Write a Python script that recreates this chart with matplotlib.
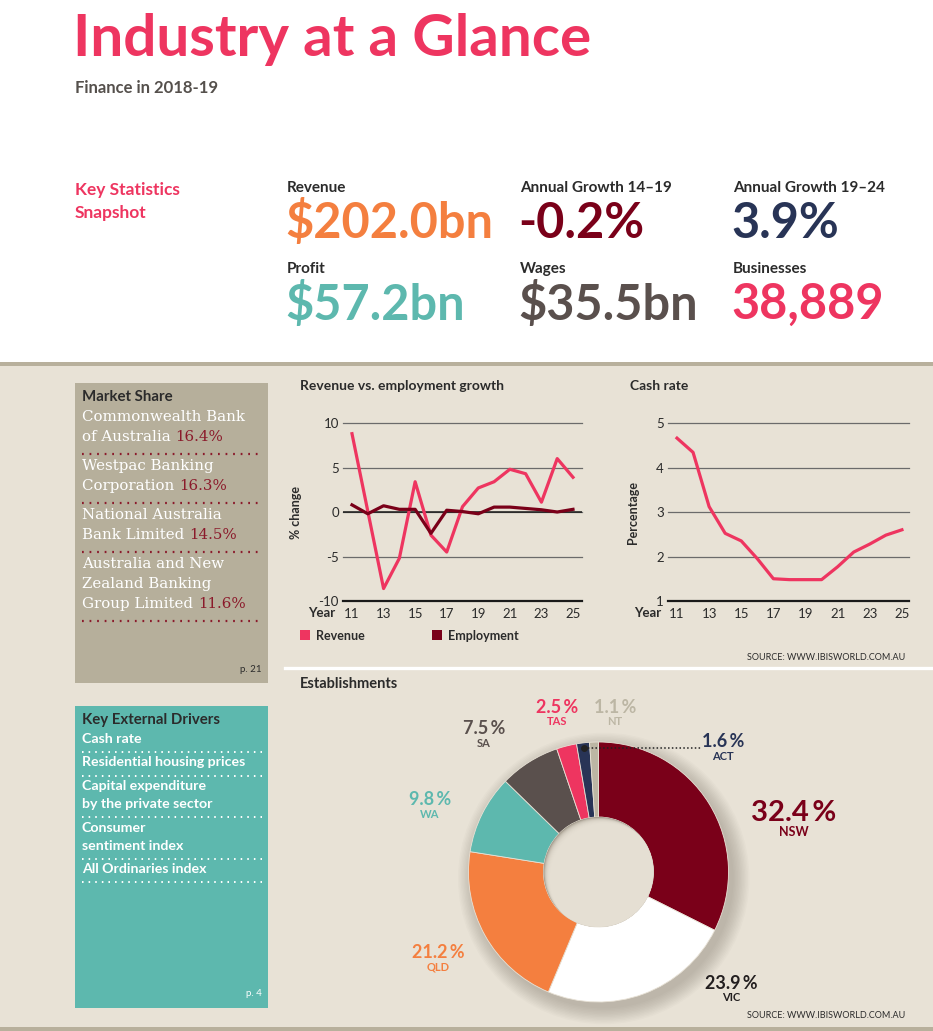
import matplotlib
matplotlib.use('Agg')
import numpy as np
import matplotlib.pyplot as plt
from matplotlib.patches import Rectangle, Circle

plt.rcParams['font.family'] = ['Lato', 'DejaVu Sans']
plt.rcParams['axes.unicode_minus'] = False

W, H = 933, 1031

# ---- data ----
years = list(range(11, 26))
year_ticks = [11, 13, 15, 17, 19, 21, 23, 25]
revenue_growth = [8.8, 0.1, -8.6, -5.2, 3.4, -2.6, -4.5, 0.6, 2.7, 3.4, 4.8, 4.3, 1.1, 6.0, 3.9]
employment_growth = [0.8, -0.2, 0.7, 0.3, 0.3, -2.4, 0.2, 0.05, -0.2, 0.55, 0.55, 0.4, 0.25, 0.0, 0.3]
cash_rate = [4.66, 4.34, 3.12, 2.52, 2.35, 1.95, 1.5, 1.48, 1.48, 1.48, 1.77, 2.1, 2.28, 2.48, 2.6]

states = ['NSW', 'VIC', 'QLD', 'WA', 'SA', 'TAS', 'ACT', 'NT']
state_share = [32.4, 23.9, 21.2, 9.8, 7.5, 2.5, 1.6, 1.1]

stat_labels = ['Revenue', 'Annual Growth 14\u201319', 'Annual Growth 19\u201324',
               'Profit', 'Wages', 'Businesses']
stat_values = ['$202.0bn', '-0.2%', '3.9%', '$57.2bn', '$35.5bn', '38,889']

company_lines = [['Commonwealth Bank', 'of Australia'],
                 ['Westpac Banking', 'Corporation'],
                 ['National Australia', 'Bank Limited'],
                 ['Australia and New', 'Zealand Banking', 'Group Limited']]
company_share = [16.4, 16.3, 14.5, 11.6]

drivers = [['Cash rate'], ['Residential housing prices'],
           ['Capital expenditure', 'by the private sector'],
           ['Consumer', 'sentiment index'], ['All Ordinaries index']]

# ---- colours ----
PINK = '#EE3560'
MAROON = '#7A0019'
ORANGE = '#F47F3F'
TEAL = '#5DB8AE'
NAVY = '#283456'
BROWN = '#5A504D'
BEIGE = '#E8E2D6'
TAN = '#B8B09C'
DARK = '#2B2B2B'
state_colors = [MAROON, '#FFFFFF', ORANGE, TEAL, BROWN, PINK, NAVY, '#BCB6A4']
stat_colors = [ORANGE, MAROON, NAVY, TEAL, BROWN, PINK]

fig = plt.figure(figsize=(W / 100, H / 100), dpi=100)
fig.patch.set_facecolor('white')

# background canvas in pixel coordinates
bg = fig.add_axes([0, 0, 1, 1], zorder=-1)
bg.set_xlim(0, W)
bg.set_ylim(H, 0)
bg.axis('off')

bg.add_patch(Rectangle((0, 362), W, 4, color=TAN, lw=0))
bg.add_patch(Rectangle((0, 366), W, 661, color=BEIGE, lw=0))
bg.add_patch(Rectangle((0, 1027), W, 4, color=TAN, lw=0))
bg.plot([285, W], [668, 668], color='white', lw=2.4)

# ---- header ----
bg.text(73, 40, 'Industry at a Glance', color=PINK, fontsize=42, fontweight='bold', va='center')
bg.text(75, 88, 'Finance in 2018-19', color='#55504C', fontsize=12, fontweight='bold', va='center')
bg.text(75, 190, 'Key Statistics', color=PINK, fontsize=12.5, fontweight='bold', va='center')
bg.text(75, 213, 'Snapshot', color=PINK, fontsize=12.5, fontweight='bold', va='center')

stat_x = [287, 520, 733]
for i, (lab, val, col) in enumerate(zip(stat_labels, stat_values, stat_colors)):
    x = stat_x[i % 3]
    y0 = 188 if i < 3 else 269
    bg.text(x, y0, lab, color=DARK, fontsize=11, fontweight='bold', va='center')
    bg.text(x - 2, y0 + 35, val, color=col, fontsize=35, fontweight='bold', va='center')

# ---- market share box ----
bg.add_patch(Rectangle((75, 383), 193, 300, color='#B6AF9B', lw=0))
bg.text(82, 397, 'Market Share', color=DARK, fontsize=10.8, fontweight='bold', va='center')
y = 417
for lines, share in zip(company_lines, company_share):
    for j, line in enumerate(lines):
        if j == len(lines) - 1:
            t = bg.text(82, y, line + ' ', color='white', fontsize=10.8, family='DejaVu Serif', va='center')
            bg.annotate(f'{share}%', xycoords=t, xy=(1, 0.5), va='center', ha='left',
                        color='#8B1A2B', fontsize=10.8, family='DejaVu Serif')
        else:
            bg.text(82, y, line, color='white', fontsize=10.8, family='DejaVu Serif', va='center')
        y += 20
    bg.plot([82, 262], [y - 3, y - 3], color='#8B1A2B', lw=1.6, ls=(0, (0.8, 2.6)))
    y += 9
bg.text(262, 670, 'p. 21', color=DARK, fontsize=7, ha='right', va='center')

# ---- key external drivers box ----
bg.add_patch(Rectangle((75, 706), 193, 302, color=TEAL, lw=0))
bg.text(82, 720, 'Key External Drivers', color=DARK, fontsize=10.8, fontweight='bold', va='center')
y = 739
for lines in drivers:
    for line in lines:
        bg.text(82, y, line, color='white', fontsize=10.2, fontweight='bold', va='center')
        y += 18
    bg.plot([82, 262], [y - 5, y - 5], color='white', lw=1.4, ls=(0, (0.8, 2.6)))
    y += 5.5
bg.text(262, 993, 'p. 4', color='white', fontsize=7, ha='right', va='center')


# ---- line charts ----
def line_axes(x0, x1, ylabel, ylim, yticks, xlim):
    ax = fig.add_axes([x0 / W, 1 - 601 / H, (x1 - x0) / W, 178 / H])
    ax.set_facecolor('none')
    ax.set_xlim(*xlim)
    ax.set_ylim(*ylim)
    for s in ax.spines.values():
        s.set_visible(False)
    for t in yticks:
        if t == ylim[0]:
            ax.axhline(t, color='#1A1A1A', lw=1.6, clip_on=False, zorder=1)
        else:
            ax.axhline(t, color='#6B6B6B', lw=0.9, clip_on=False, zorder=1)
    ax.set_yticks(yticks)
    ax.set_xticks(year_ticks)
    ax.tick_params(length=0, labelsize=9.5, labelcolor='#2B2B2B')
    ax.tick_params(axis='y', pad=3)
    ax.tick_params(axis='x', pad=5)
    ax.set_ylabel(ylabel, fontsize=9, fontweight='bold', color=DARK, labelpad=12)
    return ax


ax1 = line_axes(343, 582, '% change', (-10, 10), [-10, -5, 0, 5, 10], (10.43, 25.57))
ax1.axhline(0, color='#1A1A1A', lw=1.1, zorder=1)
ax1.plot(years, revenue_growth, color=PINK, lw=2.3, zorder=3)
ax1.plot(years, employment_growth, color=MAROON, lw=2.3, zorder=3)

ax2 = line_axes(668, 909, 'Percentage', (1, 5), [1, 2, 3, 4, 5], (10.44, 25.44))
ax2.plot(years, cash_rate, color=PINK, lw=2.3, zorder=3)

bg.text(300, 386, 'Revenue vs. employment growth', color=DARK, fontsize=10, fontweight='bold', va='center')
bg.text(630, 386, 'Cash rate', color=DARK, fontsize=10, fontweight='bold', va='center')
bg.text(308, 613, 'Year', color=DARK, fontsize=9.5, fontweight='bold', va='center')
bg.text(634, 613, 'Year', color=DARK, fontsize=9.5, fontweight='bold', va='center')

# legend
bg.add_patch(Rectangle((300, 630), 10, 10, color=PINK, lw=0))
bg.text(316, 636, 'Revenue', color=DARK, fontsize=9, fontweight='bold', va='center')
bg.add_patch(Rectangle((432, 630), 10, 10, color=MAROON, lw=0))
bg.text(448, 636, 'Employment', color=DARK, fontsize=9, fontweight='bold', va='center')
bg.text(905, 657, 'SOURCE: WWW.IBISWORLD.COM.AU', color=DARK, fontsize=6.5, ha='right', va='center')

# ---- establishments donut ----
bg.text(300, 684, 'Establishments', color=DARK, fontsize=10.5, fontweight='bold', va='center')
bg.text(905, 1016, 'SOURCE: WWW.IBISWORLD.COM.AU', color=DARK, fontsize=6.5, ha='right', va='center')

HOLE = 0.423
ax3 = fig.add_axes([300 / W, 1 - 1025 / H, 630 / W, 335 / H])
ax3.set_facecolor('none')
# soft drop shadow
for k in range(12):
    ax3.add_patch(Circle((0.04, -0.05), 1.0 + 0.011 * k, color='#6E665A', alpha=0.03, lw=0, zorder=0))
wedges, _ = ax3.pie(state_share, colors=state_colors, startangle=90, counterclock=False, radius=1,
                    wedgeprops=dict(width=1 - HOLE, edgecolor=BEIGE, linewidth=0.6))
# inner shadow in the hole (upper-left)
hole = Circle((0, 0), HOLE, transform=ax3.transData)
ax3.add_patch(Circle((0, 0), HOLE, color='#A39B8D', lw=0, zorder=5))
n = 10
for k in range(n):
    s = 0.05 * (1 - k / n)
    c = Circle((s, -s), HOLE, color=BEIGE, alpha=0.3, lw=0, zorder=6)
    ax3.add_patch(c)
    c.set_clip_path(hole)
ax3.set_xlim(-2.296, 2.55)
ax3.set_ylim(-1.177, 1.40)
ax3.set_aspect('auto')
ax3.axis('off')

label_pos = [(1.504, 0.454), (1.019, -0.854), (-1.235, -0.623), (-1.296, 0.554),
             (-0.881, 1.10), (-0.319, 1.262), (0.958, 1.0), (0.127, 1.262)]
label_colors = [MAROON, '#231F20', ORANGE, TEAL, BROWN, PINK, NAVY, '#BCB6A4']
for st, sh, (lx, ly), col in zip(states, state_share, label_pos, label_colors):
    big = st == 'NSW'
    ax3.text(lx, ly, f'{sh}\u2009%', color=col, fontsize=21 if big else 13, fontweight='bold',
             ha='center', va='center')
    ax3.text(lx, ly - (0.15 if big else 0.108), st, color=col, fontsize=9 if big else 8,
             fontweight='bold', ha='center', va='center')

# ACT leader line from the middle of its wedge
act = wedges[states.index('ACT')]
ang = np.deg2rad((act.theta1 + act.theta2) / 2)
dx, dy = 0.96 * np.cos(ang), 0.96 * np.sin(ang)
ax3.plot([dx, 0.80], [dy, dy], color='#222222', lw=1.1, ls=(0, (1, 1.5)), zorder=8)
ax3.plot([dx], [dy], marker='o', ms=4, color='#222222', zorder=8)

fig.savefig('out.png', dpi=100, facecolor='white')
